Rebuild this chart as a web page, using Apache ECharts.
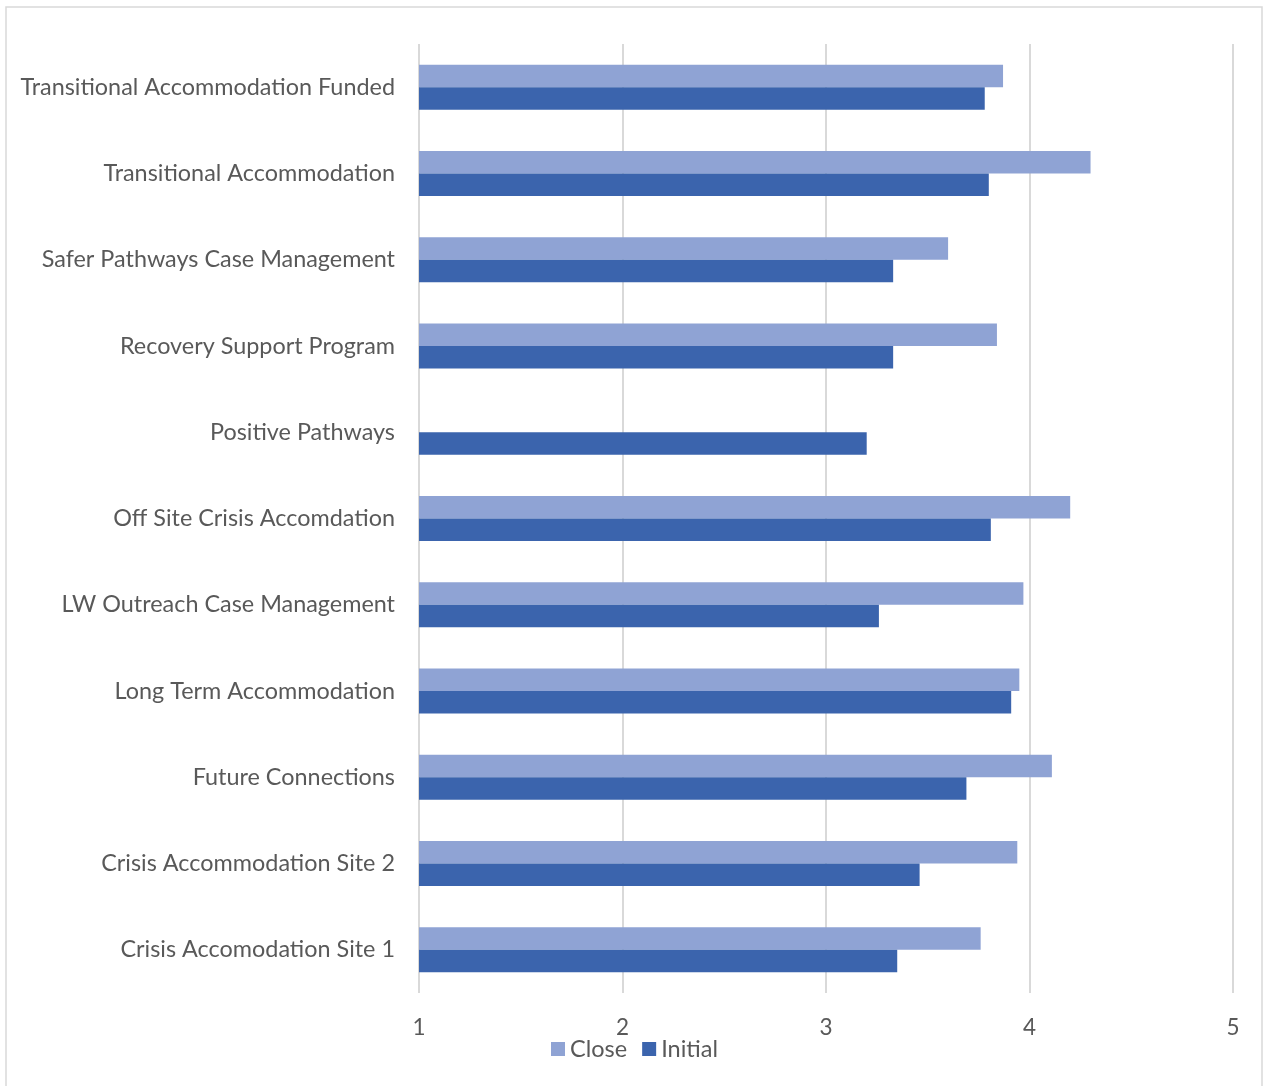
<!DOCTYPE html>
<html>
<head>
<meta charset="utf-8">
<script src="https://cdn.jsdelivr.net/npm/echarts@6/dist/echarts.min.js"></script>
<style>
  html, body { margin: 0; padding: 0; background: #ffffff; }
  #chart { width: 1264px; height: 1086px; }
</style>
</head>
<body>
<div id="chart"></div>
<script>
// Programs, listed top to bottom
const categories = [
  'Transitional Accommodation Funded',
  'Transitional Accommodation',
  'Safer Pathways Case Management',
  'Recovery Support Program',
  'Positive Pathways',
  'Off Site Crisis Accomdation',
  'LW Outreach Case Management',
  'Long Term Accommodation',
  'Future Connections',
  'Crisis Accommodation Site 2',
  'Crisis Accomodation Site 1'
];

// Average scores at close (no close score for Positive Pathways)
const closeValues = [3.87, 4.30, 3.60, 3.84, null, 4.20, 3.97, 3.95, 4.11, 3.94, 3.76];

// Average scores at initial assessment
const initialValues = [3.78, 3.80, 3.33, 3.33, 3.20, 3.81, 3.26, 3.91, 3.69, 3.46, 3.35];

const xTicks = [1, 2, 3, 4, 5];

const FONT = 'Lato';
const TEXT = '#595959';

const chart = echarts.init(document.getElementById('chart'), null, { renderer: 'canvas' });

chart.setOption({
  animation: false,
  backgroundColor: '#ffffff',
  textStyle: { fontFamily: FONT },
  graphic: [{
    type: 'rect',
    shape: { x: 6, y: 7, width: 1256, height: 1090 },
    style: { fill: 'none', stroke: '#d9d9d9', lineWidth: 1.5 },
    silent: true
  }],
  grid: { left: 419, right: 31, top: 44, bottom: 93, containLabel: false },
  legend: {
    bottom: 20,
    left: 546,
    itemWidth: 14,
    itemHeight: 14,
    itemGap: 15,
    icon: 'rect',
    textStyle: { color: TEXT, fontSize: 23.5, fontFamily: FONT },
    data: ['Close', 'Initial']
  },
  xAxis: {
    type: 'value',
    min: xTicks[0],
    max: xTicks[xTicks.length - 1],
    interval: 1,
    axisLine: { show: false },
    axisTick: { show: false },
    axisLabel: { color: TEXT, fontSize: 22.5, margin: 23, fontFamily: FONT },
    splitLine: { show: true, lineStyle: { color: '#d9d9d9', width: 2 } }
  },
  yAxis: {
    type: 'category',
    inverse: true,
    data: categories,
    axisLine: { show: false },
    axisTick: { show: false },
    axisLabel: { color: TEXT, fontSize: 23.4, margin: 24, fontFamily: FONT, padding: [2, 0, 0, 0] }
  },
  series: [
    {
      name: 'Close',
      type: 'bar',
      data: closeValues,
      barWidth: 22.5,
      barGap: '0%',
      barCategoryGap: '48%',
      itemStyle: { color: '#8fa3d4' }
    },
    {
      name: 'Initial',
      type: 'bar',
      data: initialValues,
      barWidth: 22.5,
      barGap: '0%',
      barCategoryGap: '48%',
      itemStyle: { color: '#3b64ad' }
    }
  ]
});
</script>
</body>
</html>
